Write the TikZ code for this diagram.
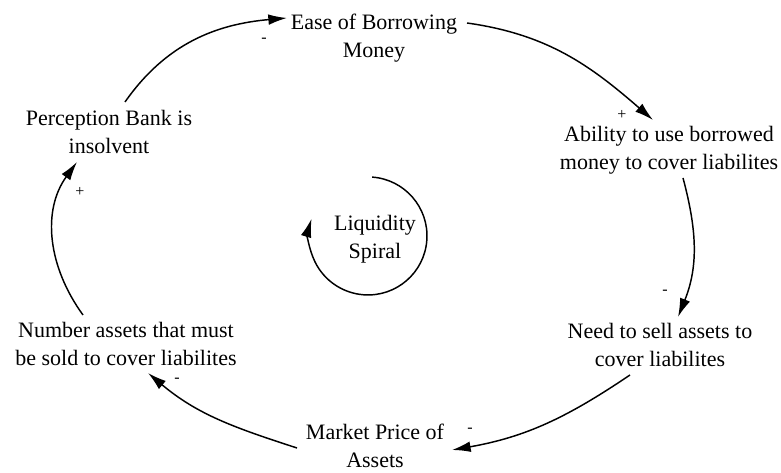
\documentclass[tikz,border=0pt]{standalone}
\usepackage{fontspec}
\setmainfont{Liberation Serif}
\usetikzlibrary{arrows.meta,calc}
\begin{document}
\begin{tikzpicture}[x=0.75pt,y=0.75pt,
  lbl/.style={font=\fontsize{16.5}{21}\selectfont, align=center, inner sep=0pt},
  sgn/.style={font=\fontsize{12}{12}\selectfont, inner sep=0pt},
  link/.style={line width=1.1pt, -{Latex[length=14pt,width=8pt]}}]
\useasboundingbox (0,0) rectangle (781,473);
% variables
\node[lbl] (ease) at (374,435) {Ease of Borrowing\\Money};
\node[lbl] (ability) at (669,323) {Ability to use borrowed\\money to cover liabilites};
\node[lbl] (need) at (660,128) {Need to sell assets to\\cover liabilites};
\node[lbl] (market) at (375,27) {Market Price of\\Assets};
\node[lbl] (number) at (126,129) {Number assets that must\\be sold to cover liabilites};
\node[lbl] (perception) at (109,341) {Perception Bank is\\insolvent};
\node[lbl] (liquidity) at (375,234) {Liquidity\\Spiral};
% links
\draw[link] ($(perception)+(16,30)$) to[out=55,in=185] ($(ease)+(-87,20)$);
\draw[link] ($(ease)+(93,15)$) to[out=-8,in=139] ($(ability)+(-16,30)$);
\draw[link] ($(ability)+(14,-28)$) to[out=-75,in=68] ($(need)+(18,28)$);
\draw[link] ($(need)+(-30,-30)$) to[out=214,in=10] ($(market)+(77,-4)$);
\draw[link] ($(market)+(-78,-2)$) to[out=162,in=-40] ($(number)+(22,-29)$);
\draw[link] ($(number)+(-43,29)$) to[out=126,in=234] ($(perception)+(-32,-30)$);
% loop marker
\draw[link] ($(liquidity)+(-2.9,61.9)$) arc[start angle=86, end angle=-197, radius=59];
% polarities
\node[sgn] (s1) at (264,433) {-};
\node[sgn] (s2) at (622,358) {+};
\node[sgn] (s3) at (665,181) {-};
\node[sgn] (s4) at (470,43) {-};
\node[sgn] (s5) at (177,93) {-};
\node[sgn] (s6) at (80,281) {+};
\end{tikzpicture}
\end{document}
